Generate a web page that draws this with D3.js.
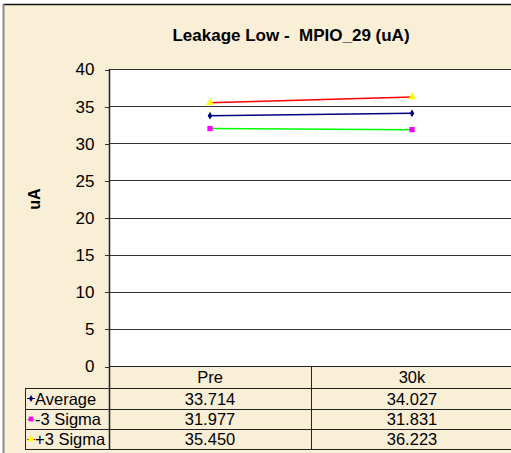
<!DOCTYPE html>
<meta charset="utf-8">
<style>
body { margin: 0; background: #fff; font-family: "Liberation Sans", Arial, sans-serif; }
.grid line { stroke: #333; stroke-width: 1; shape-rendering: crispEdges; }
.axis path, .axis line { stroke: #333; shape-rendering: crispEdges; }
.axis text { font-size: 17px; fill: #000; }
.tbl line { stroke: #222; stroke-width: 1.5; shape-rendering: crispEdges; }
.tbl text { font-size: 16.5px; fill: #000; }
</style>
<body>
<svg id="chart" width="511" height="453"></svg>
<script src="https://d3js.org/d3.v7.min.js"></script>
<script>
// data
var categories = ["Pre", "30k"];
var average = [33.714, 34.027];
var minus3 = [31.977, 31.831];
var plus3 = [35.450, 36.223];
var yTicks = [0, 5, 10, 15, 20, 25, 30, 35, 40];

var series = [
  {name: "Average", values: average, line: "#000080", marker: "#000080", shape: d3.symbolDiamond, size: 18},
  {name: "-3 Sigma", values: minus3, line: "#00ff00", marker: "#ff00ff", shape: d3.symbolSquare, size: 28},
  {name: "+3 Sigma", values: plus3, line: "#ff0000", marker: "#ffff00", shape: d3.symbolTriangle, size: 26}
];

var svg = d3.select("#chart");
var plot = {left: 109, right: 513, top: 69, bottom: 366};
var rowH = [366, 388, 409, 429, 449];
var tblLeft = 25;

// chart background + frame
svg.append("rect").attr("x", 4).attr("y", 5).attr("width", 507).attr("height", 448).attr("fill", "#f9eed6");
svg.append("line").attr("x1", 3).attr("x2", 511).attr("y1", 4.5).attr("y2", 4.5).attr("stroke", "#111").attr("stroke-width", 1.5);
svg.append("line").attr("x1", 3.5).attr("x2", 3.5).attr("y1", 4).attr("y2", 453).attr("stroke", "#888").attr("stroke-width", 2);

// title
svg.append("text").attr("x", 291).attr("y", 41).attr("text-anchor", "middle")
  .style("font-size", "17px").style("font-weight", "bold").style("white-space", "pre")
  .text("Leakage Low -  MPIO_29 (uA)");

var x = d3.scaleBand().domain(categories).range([plot.left, plot.right]);
var y = d3.scaleLinear().domain([0, 40]).range([plot.bottom, plot.top]);

svg.append("rect").attr("x", plot.left).attr("y", plot.top)
  .attr("width", plot.right - plot.left).attr("height", plot.bottom - plot.top).attr("fill", "#fff");

// gridlines
svg.append("g").attr("class", "grid").selectAll("line").data(yTicks).enter().append("line")
  .attr("x1", plot.left).attr("x2", plot.right)
  .attr("y1", d => Math.round(y(d)) + 0.5).attr("y2", d => Math.round(y(d)) + 0.5);

// y axis
var yAxis = d3.axisLeft(y).tickValues(yTicks).tickSize(5).tickPadding(10).tickSizeOuter(0);
svg.append("g").attr("class", "axis").attr("transform", `translate(${plot.left + 0.5},0.5)`).call(yAxis)
  .call(g => g.select(".domain").remove());
svg.append("line").attr("x1", plot.left + 0.5).attr("x2", plot.left + 0.5)
  .attr("y1", plot.top).attr("y2", rowH[4]).attr("stroke", "#222").attr("stroke-width", 1.5);

// y label
svg.append("text").attr("transform", "translate(40,199) rotate(-90)").attr("text-anchor", "middle")
  .style("font-size", "16px").style("font-weight", "bold").text("uA");

// lines and markers
var line = d3.line().x((d, i) => x(categories[i]) + x.bandwidth() / 2).y(d => y(d));
series.forEach(s => {
  svg.append("path").datum(s.values).attr("d", line)
    .attr("fill", "none").attr("stroke", s.line).attr("stroke-width", 1.5);
  svg.append("g").selectAll("path").data(s.values).enter().append("path")
    .attr("d", d3.symbol().type(s.shape).size(s.size))
    .attr("transform", (d, i) => `translate(${x(categories[i]) + x.bandwidth() / 2},${y(d)})`)
    .attr("fill", s.marker);
});

// data table
var tbl = svg.append("g").attr("class", "tbl");
rowH.forEach((ry, i) => {
  tbl.append("line").attr("x1", i === 0 ? plot.left : tblLeft).attr("x2", 511)
    .attr("y1", ry + 0.5).attr("y2", ry + 0.5);
});
tbl.append("line").attr("x1", tblLeft + 0.5).attr("x2", tblLeft + 0.5).attr("y1", rowH[1]).attr("y2", rowH[4]);
categories.forEach((c, i) => {
  if (i > 0) tbl.append("line").attr("x1", Math.round(x(c)) + 0.5).attr("x2", Math.round(x(c)) + 0.5)
    .attr("y1", rowH[0]).attr("y2", rowH[4]);
  tbl.append("text").attr("x", x(c) + x.bandwidth() / 2).attr("y", rowH[0] + 17)
    .attr("text-anchor", "middle").text(c);
});
series.forEach((s, r) => {
  var cy = (rowH[r + 1] + rowH[r + 2]) / 2;
  tbl.append("line").attr("x1", 27).attr("x2", 35).attr("y1", cy).attr("y2", cy)
    .style("stroke", s.line).style("stroke-width", 1);
  tbl.append("path").attr("d", d3.symbol().type(s.shape).size(s.size * 0.8))
    .attr("transform", `translate(31,${cy})`).attr("fill", s.marker);
  tbl.append("text").attr("x", 35).attr("y", cy + 6).text(s.name);
  s.values.forEach((v, i) => {
    tbl.append("text").attr("x", x(categories[i]) + x.bandwidth() / 2).attr("y", cy + 6)
      .attr("text-anchor", "middle").text(v.toFixed(3));
  });
});
</script>
</body>
